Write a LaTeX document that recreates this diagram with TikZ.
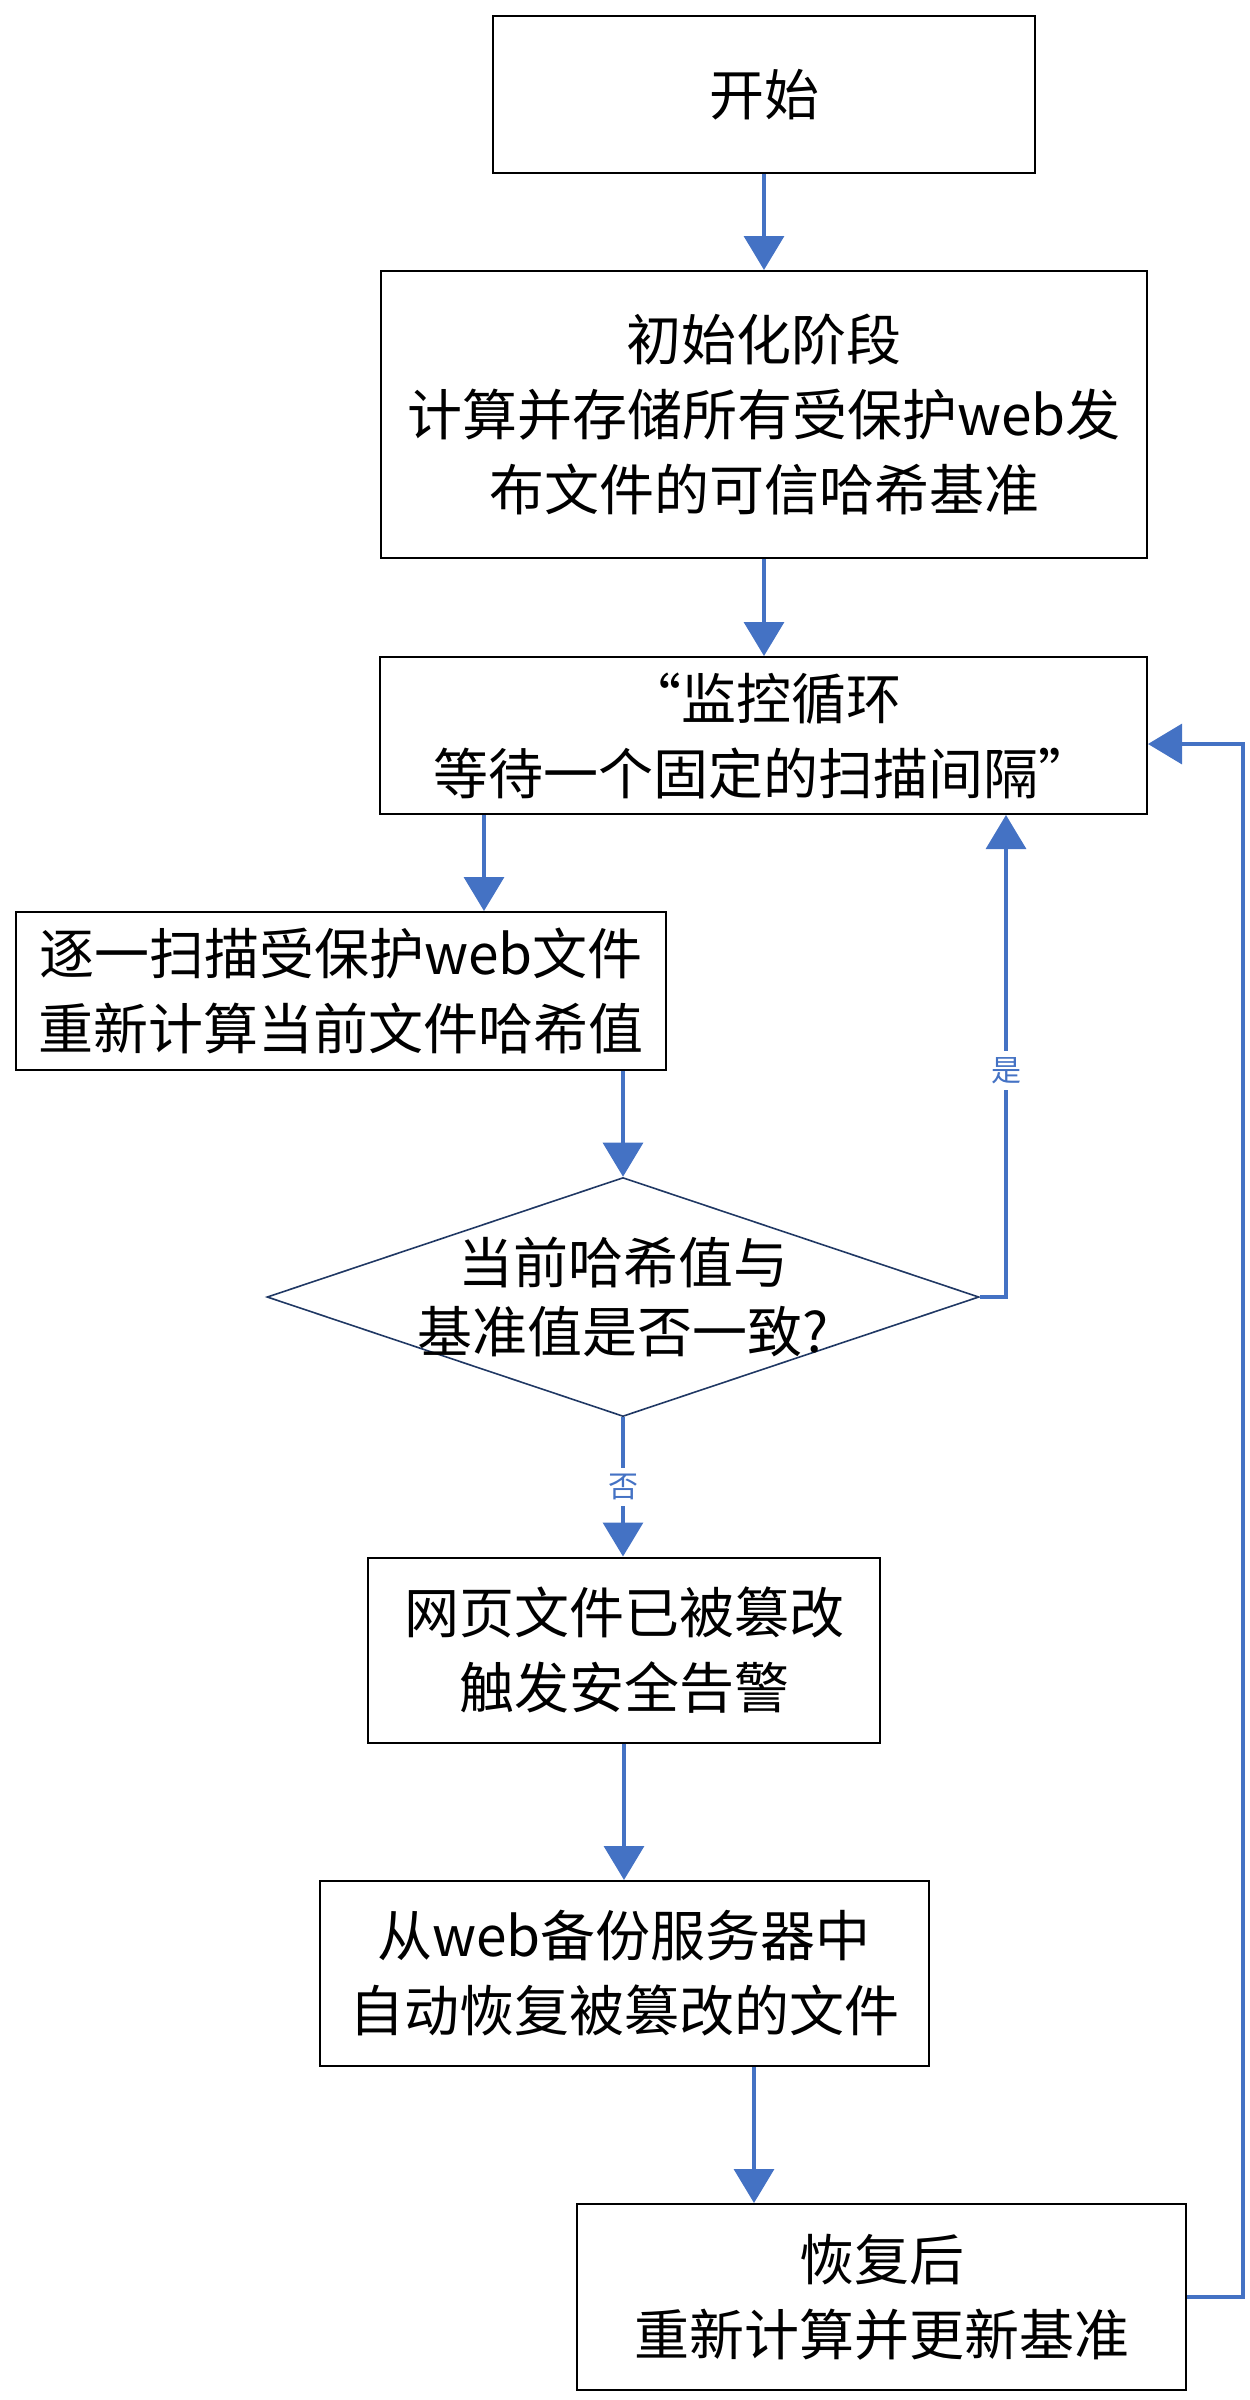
\documentclass[tikz,border=0pt]{standalone}
\usepackage{fontspec}
\setmainfont{Noto Sans CJK SC}
\usetikzlibrary{shapes.geometric,arrows.meta,calc}
\definecolor{arrblue}{HTML}{4472C4}
\definecolor{navy}{HTML}{203864}
\begin{document}
\begin{tikzpicture}[x=0.5pt,y=-0.5pt,
  box/.style={draw=black,line width=1pt,inner sep=0pt,align=center,
    font=\fontsize{27.5pt}{37.5pt}\selectfont},
  arr/.style={draw=arrblue,line width=1.65pt,-{Triangle[length=17pt,width=20pt]}},
  lab/.style={text=arrblue,fill=white,inner sep=3pt,font=\fontsize{15pt}{18pt}\selectfont},
  dectext/.style={align=center,font=\fontsize{27.5pt}{34.5pt}\selectfont}]
\useasboundingbox (0,0) rectangle (1249,2400);

\node[box,minimum width=271pt,minimum height=78.5pt] (start) at (764,94.5) {开始};
\node[box,minimum width=383pt,minimum height=143.5pt] (init) at (764,414.5)
  {初始化阶段\\计算并存储所有受保护web发\\布文件的可信哈希基准};
\node[box,minimum width=383.5pt,minimum height=78.5pt] (monitor) at (763.5,735.5)
  {“监控循环\\等待一个固定的扫描间隔”};
\node[box,minimum width=325pt,minimum height=79pt] (scan) at (341,991)
  {逐一扫描受保护web文件\\重新计算当前文件哈希值};
\node[draw=navy,line width=0.8pt,shape=diamond,inner sep=0pt,
  minimum width=356pt,minimum height=119.5pt,
  label={[dectext]center:当前哈希值与\\基准值是否一致?}] (dec) at (623,1297) {};
\node[box,minimum width=256pt,minimum height=92.5pt] (tamper) at (624,1650)
  {网页文件已被篡改\\触发安全告警};
\node[box,minimum width=304.5pt,minimum height=92.5pt] (restore) at (624,1973.5)
  {从web备份服务器中\\自动恢复被篡改的文件};
\node[box,minimum width=304.5pt,minimum height=93pt] (recalc) at (881.5,2297)
  {恢复后\\重新计算并更新基准};

\coordinate (m1) at (484,0);
\coordinate (yc) at (1006,0);
\coordinate (r1) at (754,0);
\coordinate (lc) at (1243,0);
\coordinate (fb) at ($(monitor.east)+(0,8.5)$);

\draw[arr] (start.south) -- (start.south |- init.north);
\draw[arr] (init.south) -- (init.south |- monitor.north);
\draw[arr] (m1 |- monitor.south) -- (m1 |- scan.north);
\draw[arr] (dec.north |- scan.south) -- (dec.north);
\draw[arr] (dec.east) -- (yc |- dec.east) -- node[lab,pos=0.47]{是} (yc |- monitor.south);
\draw[arr] (dec.south) -- node[lab,pos=0.5]{否} (dec.south |- tamper.north);
\draw[arr] (tamper.south) -- (tamper.south |- restore.north);
\draw[arr] (r1 |- restore.south) -- (r1 |- recalc.north);
\draw[arr] (recalc.east) -- (lc |- recalc.east) -- (lc |- fb) -- (fb);
\end{tikzpicture}
\end{document}
